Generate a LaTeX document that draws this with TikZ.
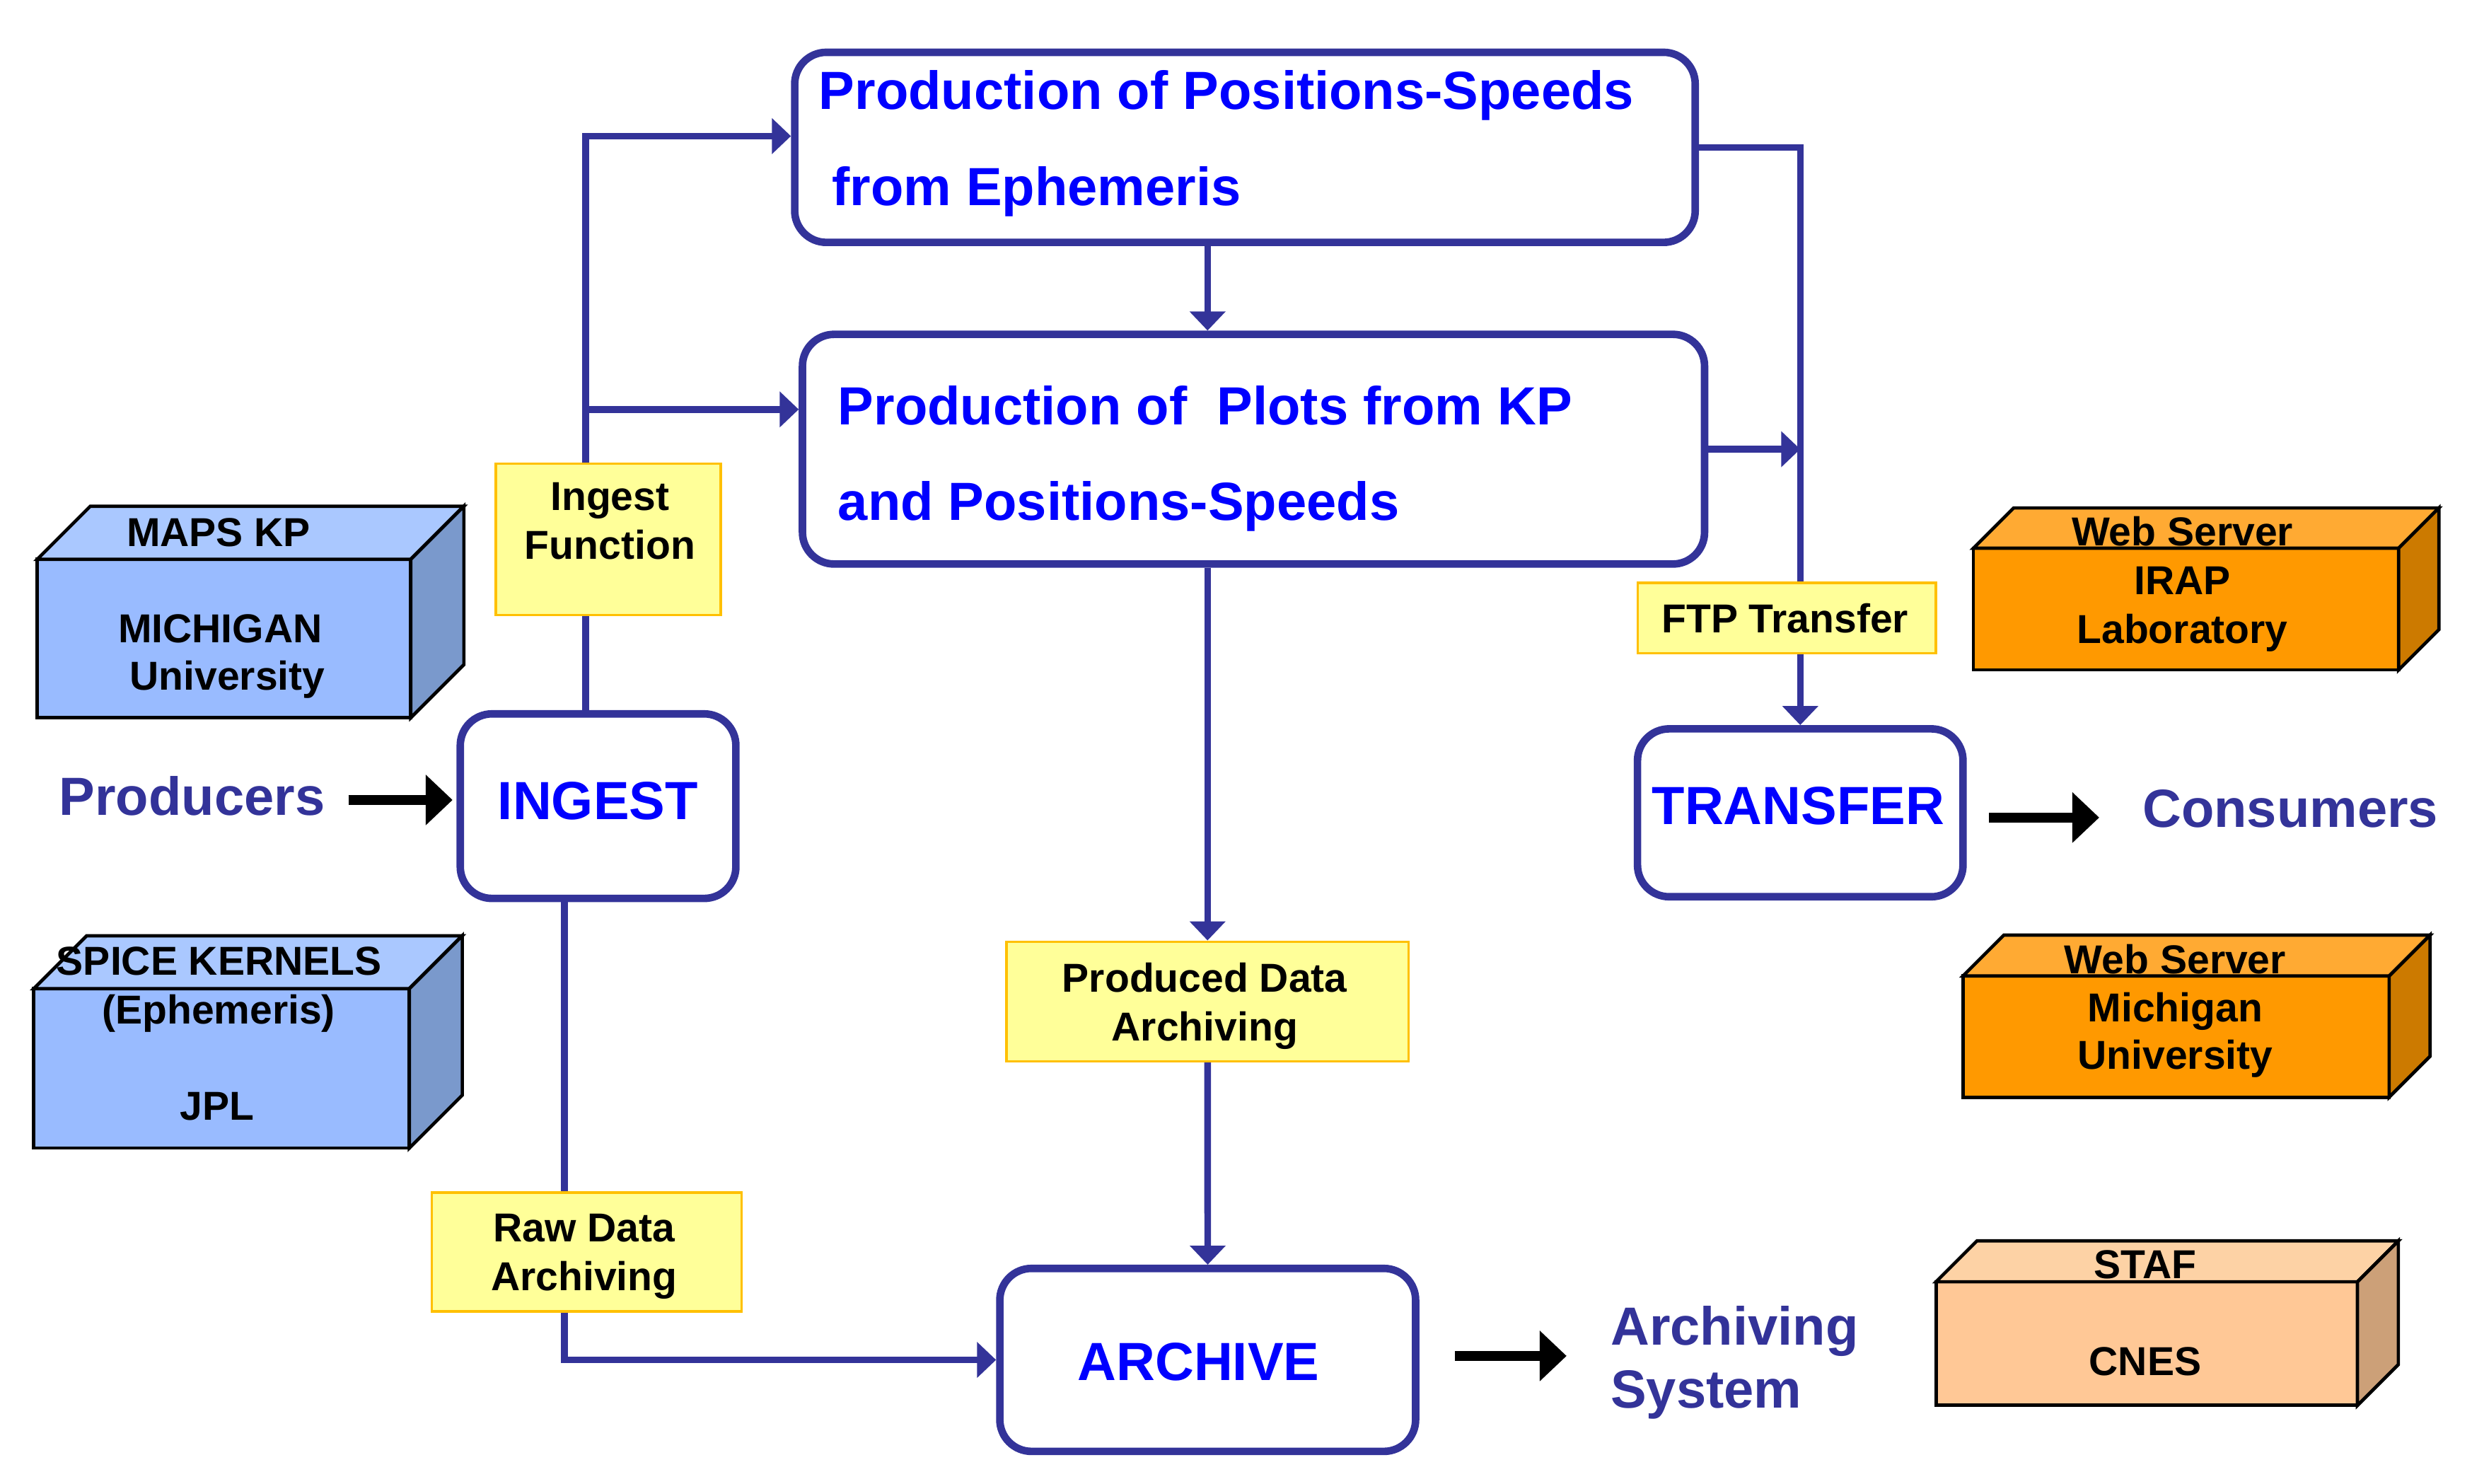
\documentclass[tikz,border=0pt]{standalone}
\usepackage{fontspec}
\setmainfont{Liberation Sans}
\usetikzlibrary{arrows.meta}
\definecolor{indigo}{RGB}{51,51,153}
\definecolor{amarillo}{RGB}{255,255,153}
\definecolor{naranja}{RGB}{255,192,0}
\definecolor{azulF}{RGB}{153,187,255}
\definecolor{azulT}{RGB}{170,200,255}
\definecolor{azulS}{RGB}{122,153,204}
\definecolor{naraF}{RGB}{255,153,0}
\definecolor{naraT}{RGB}{255,170,51}
\definecolor{naraS}{RGB}{204,122,0}
\definecolor{durF}{RGB}{255,200,150}
\definecolor{durT}{RGB}{253,210,165}
\definecolor{durS}{RGB}{204,160,120}
\newcommand\grande{\fontsize{19.3}{23}\selectfont\bfseries}
\newcommand\chico{\fontsize{14.5}{17}\selectfont\bfseries}
\begin{document}
\begin{tikzpicture}[x=0.02cm,y=-0.02cm,
    caja/.style={draw=indigo, line width=2.7pt, rounded corners=0.4cm, inner sep=0pt},
    etiq/.style={draw=naranja, line width=0.9pt, fill=amarillo, inner sep=0pt},
    flujo/.style={draw=indigo, line width=2.4pt},
    punta/.style={-{Triangle[length=0.24cm,width=0.44cm]}},
    flecha/.style={line width=0.12cm, -{Triangle[length=0.34cm,width=0.62cm]}},
    azul/.style={text=blue, font=\grande, inner sep=0pt},
    violeta/.style={text=indigo, font=\grande, inner sep=0pt, anchor=base west},
    negro/.style={font=\chico, inner sep=0pt, anchor=base}]
\useasboundingbox (0,0) rectangle (1560.3,936.6);
% cajas 3D
\foreach \xa/\ya/\xb/\yb/\d/\cf/\ct/\cs in {23.5/353/259.3/453/33.5/azulF/azulT/azulS,
    21.3/624/258.4/724.6/33.4/azulF/azulT/azulS, 1245.6/346/1514/422.8/25.4/naraF/naraT/naraS,
    1239/616/1508/692.5/25.8/naraF/naraT/naraS, 1222/809/1488/887/25.8/durF/durT/durS}{
  \draw[fill=\cf, line width=1.2pt] (\xa,\ya) rectangle (\xb,\yb);
  \draw[fill=\ct, line width=1.2pt] (\xa,\ya) -- ++(\d,-\d) -- (\xb+\d,\ya-\d) -- (\xb,\ya) -- cycle;
  \draw[fill=\cs, line width=1.2pt] (\xb,\ya) -- (\xb+\d,\ya-\d) -- (\xb+\d,\yb-\d) -- (\xb,\yb) -- cycle;
}
% procesos
\node[caja, minimum width=11.37cm, minimum height=2.40cm] (p1) at (785.8,93) {};
\node[caja, minimum width=11.39cm, minimum height=2.90cm] (p2) at (791.2,283.5) {};
\node[caja, minimum width=3.48cm, minimum height=2.33cm] (ingest) at (377.5,508.8) {};
\node[caja, minimum width=4.11cm, minimum height=2.12cm] (transfer) at (1136.3,513) {};
\node[caja, minimum width=5.25cm, minimum height=2.31cm] (archive) at (762.3,858.3) {};
% etiquetas amarillas
\node[etiq, minimum width=2.84cm, minimum height=1.91cm] (ingfn) at (383.9,340.4) {};
\node[etiq, minimum width=3.76cm, minimum height=0.89cm] (ftp) at (1127.8,390) {};
\node[etiq, minimum width=5.08cm, minimum height=1.51cm] (prod) at (762.2,632.1) {};
\node[etiq, minimum width=3.91cm, minimum height=1.50cm] (raw) at (370.3,790.1) {};
% conexiones
\coordinate (subida) at (369.6,85.9);
\coordinate (rama) at (369.6,258.4);
\coordinate (bajada) at (356.3,859.4);
\draw[flujo] (ingest.north -| subida) -- (ingfn.south -| subida);
\draw[flujo, punta] (ingfn.north -| subida) -- (subida) -- (subida -| p1.west);
\draw[flujo, punta] (rama) -- (rama -| p2.west);
\draw[flujo, punta] (p1.south -| prod) -- (p2.north -| prod);
\draw[flujo, punta] (p2.south -| prod) -- (prod.north);
\draw[flujo, punta] (prod.south) -- (archive.north);
\draw[flujo] (p1.east) -| (ftp.north -| transfer.north);
\draw[flujo, punta] (p2.east) -- (p2.east -| transfer.north);
\draw[flujo, punta] (ftp.south -| transfer.north) -- (transfer.north);
\draw[flujo] (ingest.south -| bajada) -- (raw.north -| bajada);
\draw[flujo, punta] (raw.south -| bajada) |- (archive.west);
% textos azules
\node[azul, anchor=base west] (p1a) at (516.6,69) {Production of Positions-Speeds};
\node[azul, anchor=base west] (p1b) at (524.8,129.5) {from Ephemeris};
\node[azul, anchor=base west] (p2a) at (528.6,268) {Production of \ Plots from KP};
\node[azul, anchor=base west] (p2b) at (528.6,328.3) {and Positions-Speeds};
\node[azul, anchor=base] (ingestT) at (377.4,517.4) {INGEST};
\node[azul, anchor=base] (transferT) at (1135,520.4) {TRANSFER};
\node[azul, anchor=base] (archiveT) at (756.5,871) {ARCHIVE};
\node[violeta] (producers) at (37,514.4) {Producers};
\node[violeta] (consumers) at (1352,522) {Consumers};
\node[violeta] (archsysA) at (1016.3,848.8) {Archiving};
\node[violeta] (archsysB) at (1016.3,888.7) {System};
% flechas negras
\coordinate (prodY) at ([yshift=0.19cm]producers.base east);
\coordinate (consY) at ([yshift=0.12cm]consumers.base west);
\coordinate (archY) at ([yshift=-0.14cm]archsysA.base west);
\draw[flecha, shorten <=0.29cm, shorten >=0.05cm] (prodY) -- (prodY -| ingest.west);
\draw[flecha, shorten <=0.28cm, shorten >=0.54cm] (consY -| transfer.east) -- (consY);
\draw[flecha, shorten <=0.45cm, shorten >=0.55cm] (archY -| archive.east) -- (archY);
% textos negros
\node[negro] (ingfnA) at (385,322) {Ingest};
\node[negro] (ingfnB) at (385,353) {Function};
\node[negro] (ftpT) at (1126.7,399.3) {FTP Transfer};
\node[negro] (prodA) at (760.4,626.3) {Produced Data};
\node[negro] (prodB) at (760.4,656.8) {Archiving};
\node[negro] (rawA) at (368.7,783.7) {Raw Data};
\node[negro] (rawB) at (368.7,814.3) {Archiving};
\node[negro] (mapsA) at (138,345) {MAPS KP};
\node[negro] (mapsB) at (139,405.8) {MICHIGAN};
\node[negro] (mapsC) at (143.5,435.6) {University};
\node[negro] (spiceA) at (138.3,615.6) {SPICE KERNELS};
\node[negro] (spiceB) at (138,646) {(Ephemeris)};
\node[negro] (spiceC) at (137,707) {JPL};
\node[negro] (irapA) at (1377.5,344.3) {Web Server};
\node[negro] (irapB) at (1377.5,375.4) {IRAP};
\node[negro] (irapC) at (1377.5,406) {Laboratory};
\node[negro] (umichA) at (1373,614.3) {Web Server};
\node[negro] (umichB) at (1373,645) {Michigan};
\node[negro] (umichC) at (1373,675) {University};
\node[negro] (stafA) at (1354,807) {STAF};
\node[negro] (stafB) at (1354,868) {CNES};
\end{tikzpicture}
\end{document}
